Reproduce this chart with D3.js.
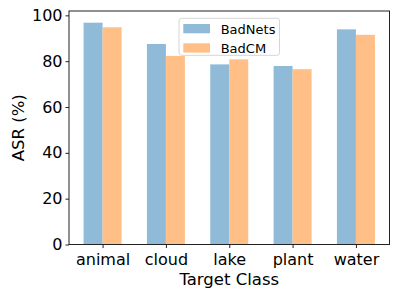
<!DOCTYPE html>
<html><head><meta charset="utf-8">
<script src="https://cdn.jsdelivr.net/npm/d3@7"></script>
<style>body{margin:0;background:#fff}svg{display:block}text{font-family:"DejaVu Sans",sans-serif;fill:#000}</style>
</head><body>
<svg id="c" width="399" height="299"></svg>
<script>
const categories = ["animal","cloud","lake","plant","water"];
const seriesNames = ["BadNets","BadCM"];
const badNets = [96.8, 87.5, 78.6, 77.9, 93.9];
const badCM = [94.8, 82.3, 80.8, 76.5, 91.5];
const yTicks = [0,20,40,60,80,100];
const colors = ["#8fbbd9","#ffbf86"];

const svg = d3.select("#c");
const L=69, R=389.5, T=11, B=244.5;
const x = d3.scaleLinear().domain([-0.53, 4.53]).range([L,R]);
const y = d3.scaleLinear().domain([0, 101.9]).range([B,T]);
const bw = 0.3;
const series=[badNets,badCM];

series.forEach((vals,si)=>{
  svg.append("g").selectAll("rect").data(vals).join("rect")
    .attr("x",(d,i)=>x(i + (si===0?-bw:0)))
    .attr("width",x(bw)-x(0))
    .attr("y",d=>y(d))
    .attr("height",d=>y(0)-y(d))
    .attr("fill",colors[si]);
});

// frame
svg.append("rect").attr("x",L).attr("y",T).attr("width",R-L).attr("height",B-T)
  .attr("fill","none").attr("stroke","#222").attr("stroke-width",1);

// y axis
const ya = svg.append("g").attr("transform",`translate(${L},0)`)
  .call(d3.axisLeft(y).tickValues(yTicks).tickSize(3.5).tickPadding(3));
ya.select(".domain").remove();
ya.selectAll("line").attr("stroke","#222");
ya.selectAll("text").attr("font-size",16).attr("font-family","DejaVu Sans").attr("fill","#000");

// x axis
const xa = svg.append("g").attr("transform",`translate(0,${B})`)
  .call(d3.axisBottom(x).tickValues(d3.range(categories.length)).tickFormat(i=>categories[i]).tickSize(3.5).tickPadding(5.5));
xa.select(".domain").remove();
xa.selectAll("line").attr("stroke","#222");
xa.selectAll("text").attr("font-size",16).attr("font-family","DejaVu Sans").attr("fill","#000");

// labels
svg.append("text").attr("x",(L+R)/2).attr("y",284.5).attr("text-anchor","middle").attr("font-size",16.5).text("Target Class");
svg.append("text").attr("transform",`translate(24,${(T+B)/2}) rotate(-90)`).attr("text-anchor","middle").attr("font-size",16.5).text("ASR (%)");

// legend
const lg = svg.append("g");
lg.append("rect").attr("x",179).attr("y",18.3).attr("width",100.5).attr("height",37).attr("rx",2.5)
  .attr("fill","white").attr("fill-opacity",0.8).attr("stroke","#d5d5d5").attr("stroke-width",1);
seriesNames.forEach((n,i)=>{
  lg.append("rect").attr("x",183.3).attr("y",24+i*19.3).attr("width",26.7).attr("height",9.3).attr("fill",colors[i]);
  lg.append("text").attr("x",220.7).attr("y",34+i*19.3).attr("font-size",13).text(n);
});
</script>
</body></html>
